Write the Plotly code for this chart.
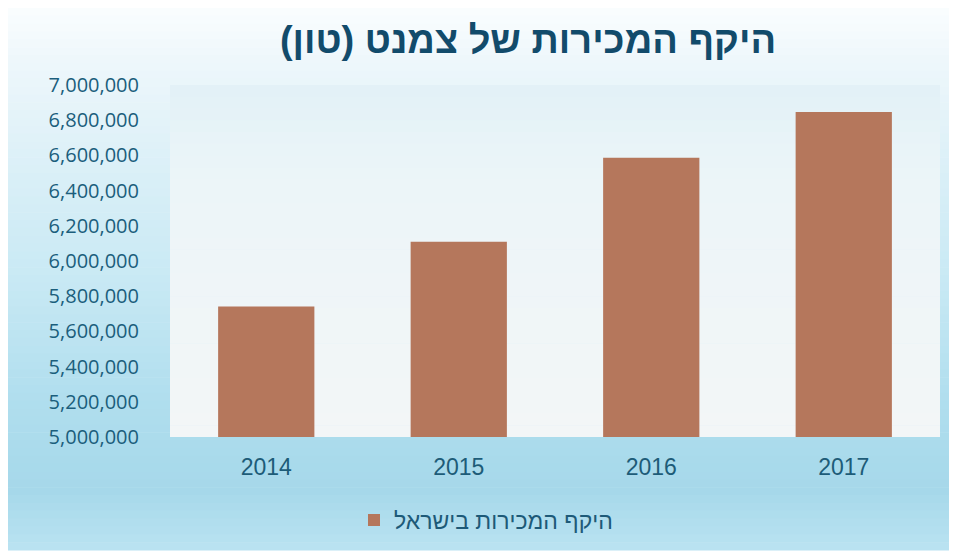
import plotly.graph_objects as go

years = ["2014", "2015", "2016", "2017"]
sales = [5742000, 6110000, 6586000, 6847000]
series_name = "היקף המכירות בישראל"
title_text = "היקף המכירות של צמנט (טון)"
y_ticks = [5000000 + 200000 * i for i in range(11)]

OFF = 8  # page body margin
W, H = 957 - OFF, 554 - OFF
# plot area in reference pixel coordinates
PX0, PX1, PY0, PY1 = 170, 940, 85, 437
L, R, T, B = PX0 - OFF, 957 - PX1, PY0 - OFF, 554 - PY1
plot_h = PY1 - PY0
plot_w = PX1 - PX0


def py(y_px):
    return (PY1 - y_px) / plot_h


def px(x_px):
    return (x_px - PX0) / plot_w


def lerp(c1, c2, t):
    return "#%02x%02x%02x" % tuple(int(round(a + (b - a) * t)) for a, b in zip(c1, c2))


def grad(stops, m):
    for j in range(len(stops) - 1):
        if stops[j][0] <= m <= stops[j + 1][0]:
            t = (m - stops[j][0]) / (stops[j + 1][0] - stops[j][0])
            return lerp(stops[j][1], stops[j + 1][1], t)
    return lerp(stops[-1][1], stops[-1][1], 0)


stops = [(0, (252, 254, 255)), (60, (238, 247, 251)), (150, (222, 241, 248)),
         (280, (200, 233, 244)), (400, (176, 222, 238)), (490, (166, 216, 234)),
         (550, (186, 227, 241))]

shapes = []
n = 70
y0, y1 = 0, 550
for i in range(n):
    a = y0 + (y1 - y0) * i / n
    b = y0 + (y1 - y0) * (i + 1) / n
    col = grad(stops, (a + b) / 2)
    shapes.append(dict(type="rect", xref="paper", yref="paper", layer="below",
                       x0=px(8), x1=px(954), y0=py(b + 0.6), y1=py(a),
                       fillcolor=col, line=dict(width=0)))

pstops = [(85, (226, 241, 247)), (180, (236, 245, 248)), (437, (243, 246, 247))]
m_n = 30
for i in range(m_n):
    a = PY0 + (PY1 - PY0) * i / m_n
    b = PY0 + (PY1 - PY0) * (i + 1) / m_n
    col = grad(pstops, (a + b) / 2)
    shapes.append(dict(type="rect", xref="paper", yref="paper", layer="below",
                       x0=0, x1=1, y0=max(0, py(b + 0.6)), y1=py(a),
                       fillcolor=col, line=dict(width=0)))

fig = go.Figure()
fig.add_trace(go.Bar(
    x=years, y=sales, name=series_name,
    marker=dict(color="#b5775c", line=dict(width=0)),
    width=0.5,
))

fig.update_layout(
    width=W, height=H,
    margin=dict(l=L, r=R, t=T, b=B),
    paper_bgcolor="#ffffff",
    plot_bgcolor="rgba(0,0,0,0)",
    shapes=shapes,
    title=dict(text=title_text, x=px(528), xref="paper", xanchor="center",
               y=1 - (40 - OFF) / H, yanchor="middle",
               font=dict(family="Liberation Sans, DejaVu Sans", size=38,
                         color="#124b6b", weight="bold")),
    showlegend=True,
    legend=dict(orientation="h", x=px(486), xanchor="center", y=py(520),
                yanchor="middle", bgcolor="rgba(0,0,0,0)",
                font=dict(family="Liberation Sans, DejaVu Sans", size=23, color="#1d5a78"),
                itemwidth=30),
    bargap=0.5,
)
fig.update_xaxes(showgrid=False, showline=False, zeroline=False, ticks="",
                 ticklabelstandoff=14,
                 tickfont=dict(family="Liberation Sans, Arial", size=23, color="#1d5c78"))
fig.update_yaxes(range=[5000000, 7000000], tickvals=y_ticks, tickformat=",d",
                 showgrid=False, showline=False, zeroline=False, ticks="",
                 ticklabelstandoff=30,
                 tickfont=dict(family="Open Sans, Noto Sans", size=20, color="#1b5e7c"))

fig.write_html("out.html")
